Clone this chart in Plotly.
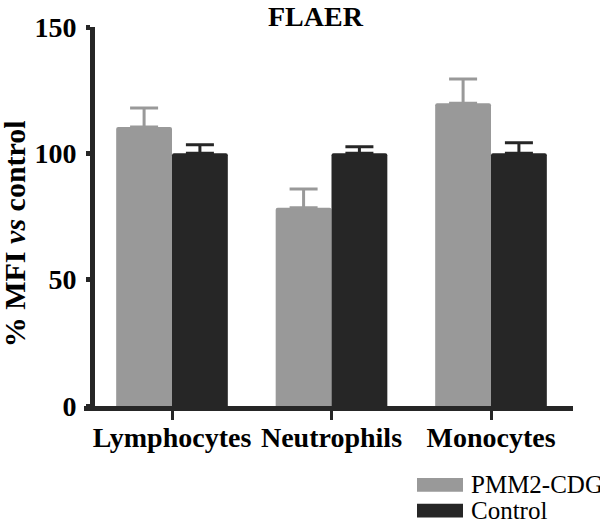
import plotly.graph_objects as go

# data
categories = ["Lymphocytes", "Neutrophils", "Monocytes"]
pmm2_values = [110.4, 78.5, 119.8]
pmm2_err = [7.5, 7.4, 9.6]
control_values = [100.0, 100.0, 100.0]
control_err = [3.4, 2.6, 4.2]
y_ticks = [0, 50, 100, 150]

GRAY = "#999999"
DARK = "#262626"
FONT = "Liberation Serif"

# plot area in pixels (600 x 521 page)
W, H = 600, 521
L, R, T, B = 84, 573, 22, 406


def px_x(p):
    return (p - L) / (R - L)


def px_y(p):
    return (B - p) / (B - T)


fig = go.Figure()

fig.add_trace(go.Bar(
    x=categories, y=pmm2_values, name="PMM2-CDG",
    marker_color=GRAY, marker_line_width=0, marker_cornerradius=2,
    error_y=dict(type="data", symmetric=False, array=pmm2_err,
                 arrayminus=[0, 0, 0], color=GRAY, thickness=3, width=14),
))
fig.add_trace(go.Bar(
    x=categories, y=control_values, name="Control",
    marker_color=DARK, marker_line_width=0, marker_cornerradius=2,
    error_y=dict(type="data", symmetric=False, array=control_err,
                 arrayminus=[0, 0, 0], color=DARK, thickness=3, width=14),
))

# category spacing in px is ~159.5, first centre at 172
step = 159.5
x0 = -(172 - L) / step
x1 = 2 + (R - 491) / step

fig.update_layout(
    width=W, height=H,
    margin=dict(l=L, r=W - R, t=T, b=H - B, pad=0),
    plot_bgcolor="white", paper_bgcolor="white",
    barmode="group", bargap=0.3, bargroupgap=0,
    showlegend=False,
    font=dict(family=FONT, color="black"),
    xaxis=dict(
        range=[x0, x1], showgrid=False, zeroline=False,
        showline=True, linecolor=DARK, linewidth=5,
        ticks="outside", ticklen=9, tickwidth=3, tickcolor=DARK,
        ticklabelstandoff=-7,
        tickfont=dict(family=FONT, size=28, weight="bold"),
    ),
    yaxis=dict(
        range=[0, 150], tickvals=y_ticks, showgrid=False, zeroline=False,
        anchor="free", position=px_x(92),
        showline=True, linecolor=DARK, linewidth=5,
        ticks="outside", ticklen=4, tickwidth=5, tickcolor=DARK,
        ticklabelstandoff=4,
        tickfont=dict(family=FONT, size=28, weight="bold"),
    ),
)

# title
fig.add_annotation(
    text="<b>FLAER</b>", xref="paper", yref="paper",
    x=px_x(315.5), y=px_y(11), xanchor="center", yanchor="middle",
    showarrow=False, font=dict(family=FONT, size=28, color="black"),
)

# y axis title
fig.add_annotation(
    text="<b>% MFI <i>vs</i> control</b>", xref="paper", yref="paper",
    x=px_x(14), y=px_y(232), xanchor="center", yanchor="middle",
    textangle=-90, showarrow=False,
    font=dict(family=FONT, size=30, color="black"),
)

# legend drawn by hand to get the wide swatches
legend_rows = [("PMM2-CDG", GRAY, 479, 493), ("Control", DARK, 505, 519)]
for label, color, top, bottom in legend_rows:
    fig.add_shape(
        type="rect", xref="paper", yref="paper",
        x0=px_x(417), x1=px_x(463), y0=px_y(bottom), y1=px_y(top),
        fillcolor=color, line_width=0,
    )
    fig.add_annotation(
        text=label, xref="paper", yref="paper",
        x=px_x(469), y=px_y((top + bottom) / 2),
        xanchor="left", yanchor="middle", showarrow=False,
        font=dict(family=FONT, size=25, color="black"),
    )

# page body has an 8px default margin; drop it so the figure sits at 0,0
fig.write_html("out.html", config={"displayModeBar": False},
               post_script="document.body.style.margin='0';")
